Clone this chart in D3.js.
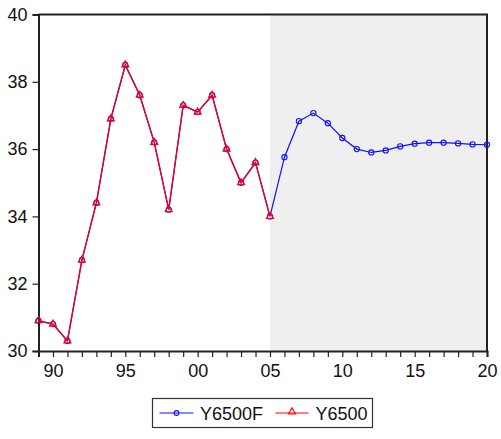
<!DOCTYPE html>
<html>
<head>
<meta charset="utf-8">
<script src="https://cdn.jsdelivr.net/npm/d3@7"></script>
<style>
  body { margin: 0; background: #fff; }
  svg { display: block; }
  text { font-family: "Liberation Sans", Arial, sans-serif; fill: #111; }
</style>
</head>
<body>
<svg id="chart" width="501" height="439"></svg>
<script>
// Years and series
const years = d3.range(1989, 2021);
const actualYears = d3.range(1989, 2006);
const y6500 = [30.9, 30.8, 30.3, 32.7, 34.4, 36.9, 38.5, 37.6, 36.2, 34.2, 37.3, 37.1, 37.6, 36.0, 35.0, 35.6, 34.0];
const forecastTail = [35.76, 36.83, 37.07, 36.77, 36.33, 36.0, 35.90, 35.96, 36.08, 36.16, 36.19, 36.19, 36.17, 36.14, 36.13];
const y6500f = y6500.concat(forecastTail);
const yTicks = [30, 32, 34, 36, 38, 40];
const xMajor = [1990, 1995, 2000, 2005, 2010, 2015, 2020];
const shadeStart = 2005, shadeEnd = 2020;

const svg = d3.select("#chart");
const plotL = 38.5, plotR = 487, plotT = 14.5, plotB = 351;
const fontSize = 18;

const x = d3.scaleLinear().domain([1989, 2020]).range([plotL, plotR]);
const y = d3.scaleLinear().domain([30, 40]).range([plotB, plotT]);

// Forecast shading
svg.append("rect")
  .attr("x", x(shadeStart)).attr("y", plotT)
  .attr("width", x(shadeEnd) - x(shadeStart)).attr("height", plotB - plotT)
  .attr("fill", "#efefef");

// Frame (top and right)
svg.append("path")
  .attr("d", `M${plotL},${plotT}H${plotR}V${plotB}`)
  .attr("fill", "none").attr("stroke", "#222").attr("stroke-width", 2);

// Y axis
const yAxis = svg.append("g").attr("transform", `translate(${plotL},0)`)
  .call(d3.axisLeft(y).tickValues(yTicks).tickSize(6).tickPadding(5).tickFormat(d3.format("d")));
yAxis.select(".domain").attr("stroke", "#222").attr("stroke-width", 2);
yAxis.selectAll("text").attr("font-size", fontSize).style("font-family", "Liberation Sans, Arial, sans-serif").attr("fill", "#111");
yAxis.selectAll(".tick line").attr("stroke", "#222").attr("stroke-width", 1.2);

// X axis: a tick every year, labels on the major years
const xAxis = svg.append("g").attr("transform", `translate(0,${plotB})`)
  .call(d3.axisBottom(x).tickValues(years).tickSize(6).tickPadding(7)
    .tickFormat(d => xMajor.includes(d) ? String(d % 100).padStart(2, "0") : ""));
xAxis.select(".domain").attr("stroke", "#222").attr("stroke-width", 2);
xAxis.selectAll("text").attr("font-size", fontSize).style("font-family", "Liberation Sans, Arial, sans-serif").attr("fill", "#111");
xAxis.selectAll(".tick line").attr("stroke", "#222").attr("stroke-width", 1.2);

const line = d3.line().x(d => x(d[0])).y(d => y(d[1]));

// Y6500F (blue, circles)
const fData = years.map((yr, i) => [yr, y6500f[i]]);
svg.append("path").datum(fData).attr("d", line)
  .attr("fill", "none").attr("stroke", "#1010ff").attr("stroke-width", 1.2);
svg.append("g").selectAll("circle").data(fData).join("circle")
  .attr("cx", d => x(d[0])).attr("cy", d => y(d[1])).attr("r", 2.6)
  .attr("fill", "none").attr("stroke", "#1010ff").attr("stroke-width", 1.1);

// Y6500 (red, triangles)
const aData = actualYears.map((yr, i) => [yr, y6500[i]]);
svg.append("path").datum(aData).attr("d", line)
  .attr("fill", "none").attr("stroke", "#e8002a").attr("stroke-width", 1.4);
const tri = d3.symbol().type(d3.symbolTriangle).size(22);
svg.append("g").selectAll("path").data(aData).join("path")
  .attr("d", tri)
  .attr("transform", d => `translate(${x(d[0])},${y(d[1])})`)
  .attr("fill", "none").attr("stroke", "#ff0000").attr("stroke-width", 1.1);

// Legend
const lg = svg.append("g").attr("transform", "translate(152.5,398.5)");
lg.append("rect").attr("width", 220).attr("height", 29)
  .attr("fill", "#fff").attr("stroke", "#333").attr("stroke-width", 1.2);
lg.append("line").attr("x1", 7).attr("x2", 41).attr("y1", 14.5).attr("y2", 14.5)
  .attr("stroke", "#1010ff").attr("stroke-width", 1.2);
lg.append("circle").attr("cx", 24).attr("cy", 14.5).attr("r", 2.4)
  .attr("fill", "none").attr("stroke", "#1010ff").attr("stroke-width", 1.1);
lg.append("text").attr("x", 47.5).attr("y", 21.5).attr("font-size", fontSize).text("Y6500F");
lg.append("line").attr("x1", 123).attr("x2", 156).attr("y1", 14.5).attr("y2", 14.5)
  .attr("stroke", "#ff0000").attr("stroke-width", 1.2);
lg.append("path").attr("d", tri).attr("transform", "translate(139.5,13.5)")
  .attr("fill", "none").attr("stroke", "#ff0000").attr("stroke-width", 1.1);
lg.append("text").attr("x", 163).attr("y", 21.5).attr("font-size", fontSize).text("Y6500");
</script>
</body>
</html>
